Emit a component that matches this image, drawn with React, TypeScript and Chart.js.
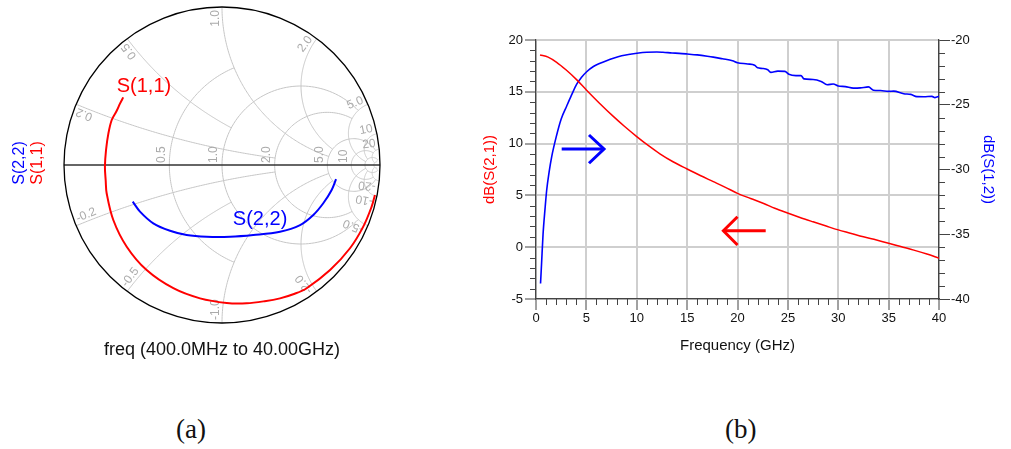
import React, { useEffect, useRef } from 'react';
import { Chart, registerables } from 'chart.js';

Chart.register(...registerables);

const SANS = '"Liberation Sans", Arial, Helvetica, sans-serif';
Chart.defaults.font.family = SANS;

// ---------- (a) Smith chart: reflection coefficients ----------
const s11Re = [-0.625, -0.645, -0.668, -0.698, -0.719, -0.734, -0.741, -0.736, -0.73, -0.688, -0.603, -0.477, -0.308, -0.139, 0.03, 0.156, 0.27, 0.367, 0.46, 0.536, 0.684, 0.81, 0.894, 0.947, 0.968];
const s11Im = [0.428, 0.39, 0.34, 0.285, 0.2, 0.095, -0.011, -0.1, -0.179, -0.348, -0.517, -0.665, -0.78, -0.844, -0.873, -0.875, -0.862, -0.844, -0.815, -0.78, -0.665, -0.527, -0.39, -0.264, -0.19];
const s22Re = [-0.565, -0.519, -0.435, -0.329, -0.224, -0.097, 0.051, 0.198, 0.367, 0.494, 0.578, 0.641, 0.694, 0.722];
const s22Im = [-0.232, -0.295, -0.369, -0.416, -0.443, -0.454, -0.454, -0.443, -0.422, -0.38, -0.316, -0.242, -0.158, -0.089];

// Smith grid: resistance circles (clipped at |x| <= clip) and reactance arcs (clipped at r <= clip)
const smithR = [0.5, 1, 2, 5, 10, 20, 50];
const smithRClip = [1, 5, 5, 20, 20, 50, 50];
const smithX = [0.2, 0.5, 1, 2, 5, 10, 20, 50];
const smithXClip = [2, 1, 5, 5, 20, 20, 50, 50];
const smithRLabels = ['0.5', '1.0', '2.0', '5.0', '10'];
const smithRLabelVals = [0.5, 1, 2, 5, 10];
const smithXLabelVals = [0.2, 0.5, 1, 2, 5, 10, 20];
const smithXLabels = ['0.2', '0.5', '1.0', '2.0', '5.0', '10', '20'];

const s11Tag = { text: 'S(1,1)', re: -0.494, im: 0.497 };
const s22Tag = { text: 'S(2,2)', re: 0.241, im: -0.342 };
const smithCaption = 'freq (400.0MHz to 40.00GHz)';

// ---------- (b) gain plot ----------
const freqS21 = [0.4, 1.2, 2.05, 3.0, 4.0, 5.0, 6.3, 7.7, 8.8, 10.0, 11.1, 12.3, 13.6, 15.0, 16.3, 17.6, 18.8, 20.0, 21.3, 22.6, 23.7, 24.9, 26.2, 27.5, 28.8, 30.0, 31.2, 32.5, 33.8, 35.0, 36.2, 37.5, 38.8, 40.0];
const s21dB = [18.55, 18.35, 17.85, 17.1, 16.2, 15.18, 13.9, 12.6, 11.65, 10.68, 9.85, 9.02, 8.25, 7.55, 6.92, 6.33, 5.78, 5.2, 4.7, 4.22, 3.76, 3.32, 2.87, 2.45, 2.04, 1.67, 1.35, 1.0, 0.7, 0.39, 0.06, -0.28, -0.66, -1.06];
const freqS12 = [0.45, 0.55, 0.7, 0.9, 1.06, 1.3, 1.56, 2.0, 2.5, 3.05, 3.5, 4.04, 4.5, 5.03, 5.7, 6.36, 7.0, 7.68, 8.5, 9.34, 10.2, 11.0, 12.0, 12.6, 13.5, 14.2, 15.0, 16.0, 17.0, 17.6, 18.5, 19.5, 20.0, 21.0, 21.7, 22.0, 22.5, 23.0, 23.3, 24.0, 24.7, 25.1, 25.8, 26.3, 26.6, 27.5, 28.3, 28.9, 29.5, 30.0, 30.7, 31.5, 32.2, 33.0, 33.5, 34.2, 35.0, 35.5, 36.5, 37.2, 37.8, 38.5, 39.3, 39.6, 40.0];
const s12dB = [-38.8, -37.3, -35.0, -33.0, -31.6, -30.2, -29.0, -27.5, -26.1, -25.1, -24.3, -23.4, -22.9, -22.45, -22.05, -21.8, -21.6, -21.41, -21.22, -21.1, -21.0, -20.95, -20.93, -20.95, -21.0, -21.03, -21.08, -21.15, -21.25, -21.32, -21.45, -21.6, -21.75, -21.85, -21.95, -22.15, -22.2, -22.3, -22.5, -22.4, -22.42, -22.65, -22.75, -22.75, -23.0, -23.05, -23.2, -23.45, -23.4, -23.55, -23.6, -23.72, -23.7, -23.62, -23.88, -23.9, -23.97, -23.95, -24.15, -24.2, -24.37, -24.38, -24.35, -24.45, -24.35];

// arrows (GHz, left-axis dB)
const blueArrowShaftF = [2.55, 6.75];
const blueArrowShaftV = [9.48, 9.48];
const blueArrowHeadF = [5.26, 6.75, 5.26];
const blueArrowHeadV = [10.83, 9.48, 8.1];
const redArrowShaftF = [18.6, 22.8];
const redArrowShaftV = [1.59, 1.59];
const redArrowHeadF = [20.0, 18.6, 20.0];
const redArrowHeadV = [2.94, 1.59, 0.21];

const pts = (xs: number[], ys: number[]) => xs.map((v, i) => ({ x: v, y: ys[i] }));

function gam(r: number, xv: number) {
  const den = (r + 1) * (r + 1) + xv * xv;
  return { re: (r * r - 1 + xv * xv) / den, im: (2 * xv) / den };
}

const smithPlugin = {
  id: 'smithGrid',
  beforeDatasetsDraw(chart: any) {
    const { ctx, scales } = chart;
    const sx = scales.x, sy = scales.y;
    const P = (a: number, b: number) => [sx.getPixelForValue(a), sy.getPixelForValue(b)];
    const [cx, cy] = P(0, 0);
    const R = sx.getPixelForValue(1) - cx;
    ctx.save();
    ctx.beginPath();
    ctx.arc(cx, cy, R, 0, Math.PI * 2);
    ctx.clip();
    ctx.strokeStyle = '#c6c6c6';
    ctx.lineWidth = 1;
    const N = 120;
    smithR.forEach((r, i) => {
      const c = r / (1 + r), rho = 1 / (1 + r);
      const g = gam(r, smithRClip[i]);
      const phi = Math.atan2(g.im, g.re - c);
      ctx.beginPath();
      for (let k = 0; k <= N; k++) {
        const f = phi + (2 * Math.PI - 2 * phi) * k / N;
        const [px, py] = P(c + rho * Math.cos(f), rho * Math.sin(f));
        if (k === 0) ctx.moveTo(px, py); else ctx.lineTo(px, py);
      }
      ctx.stroke();
    });
    smithX.forEach((xa, i) => {
      [xa, -xa].forEach((xv) => {
        const cyc = 1 / xv, rad = 1 / Math.abs(xv);
        const g0 = gam(0, xv), g1 = gam(smithXClip[i], xv);
        const p0 = Math.atan2(g0.im - cyc, g0.re - 1);
        const p1 = Math.atan2(g1.im - cyc, g1.re - 1);
        let d = p1 - p0;
        while (d > Math.PI) d -= 2 * Math.PI;
        while (d <= -Math.PI) d += 2 * Math.PI;
        ctx.beginPath();
        for (let k = 0; k <= N; k++) {
          const f = p0 + d * k / N;
          const [px, py] = P(1 + rad * Math.cos(f), cyc + rad * Math.sin(f));
          if (k === 0) ctx.moveTo(px, py); else ctx.lineTo(px, py);
        }
        ctx.stroke();
      });
    });
    ctx.restore();

    // labels
    ctx.save();
    ctx.fillStyle = '#ababab';
    ctx.font = `12px ${SANS}`;
    ctx.textBaseline = 'bottom';
    smithRLabelVals.forEach((r, i) => {
      const g = gam(r, 0);
      const [px] = P(g.re, 0);
      ctx.save();
      ctx.translate(px - 2, cy - 2);
      ctx.rotate(-Math.PI / 2);
      ctx.textAlign = 'left';
      ctx.fillText(smithRLabels[i], 0, 0);
      ctx.restore();
    });
    smithXLabelVals.forEach((xa, i) => {
      [xa, -xa].forEach((xv) => {
        const g0 = gam(0, xv);
        const al = Math.atan2(g0.im, g0.re);
        const ax = cx + (R - 3) * Math.cos(al), ay = cy - (R - 3) * Math.sin(al);
        ctx.save();
        ctx.translate(ax, ay);
        if (al > 0) { ctx.rotate(-al); ctx.textAlign = 'right'; }
        else { ctx.rotate(Math.PI - al); ctx.textAlign = 'left'; }
        ctx.fillText(xv > 0 ? smithXLabels[i] : '-' + smithXLabels[i], 0, 0);
        ctx.restore();
      });
    });
    ctx.restore();

    // real axis and outer circle
    ctx.save();
    ctx.strokeStyle = '#333';
    ctx.lineWidth = 1.3;
    ctx.beginPath();
    const [lx] = P(-1, 0), [rx] = P(1, 0);
    ctx.moveTo(lx, cy); ctx.lineTo(rx, cy);
    ctx.stroke();
    ctx.strokeStyle = '#000';
    ctx.beginPath();
    ctx.arc(cx, cy, R, 0, Math.PI * 2);
    ctx.stroke();
    ctx.restore();
  },
  afterDatasetsDraw(chart: any) {
    const { ctx, scales, chartArea } = chart;
    const sx = scales.x, sy = scales.y;
    ctx.save();
    ctx.textAlign = 'center';
    ctx.textBaseline = 'middle';
    ctx.font = `20px ${SANS}`;
    ctx.fillStyle = '#ff0000';
    ctx.fillText(s11Tag.text, sx.getPixelForValue(s11Tag.re), sy.getPixelForValue(s11Tag.im));
    ctx.fillStyle = '#0000ff';
    ctx.fillText(s22Tag.text, sx.getPixelForValue(s22Tag.re), sy.getPixelForValue(s22Tag.im));
    // left vertical trace names
    const cy = sy.getPixelForValue(0);
    ctx.font = `16px ${SANS}`;
    ctx.save();
    ctx.translate(20, cy - 2);
    ctx.rotate(-Math.PI / 2);
    ctx.fillStyle = '#0000ff';
    ctx.fillText('S(2,2)', 0, 0);
    ctx.restore();
    ctx.save();
    ctx.translate(37.5, cy - 2);
    ctx.rotate(-Math.PI / 2);
    ctx.fillStyle = '#ff0000';
    ctx.fillText('S(1,1)', 0, 0);
    ctx.restore();
    // frequency caption
    ctx.font = `18px ${SANS}`;
    ctx.fillStyle = '#111';
    ctx.fillText(smithCaption, sx.getPixelForValue(0), chartArea.bottom + 27);
    ctx.restore();
  },
};

const minorTicksPlugin = {
  id: 'minorTicks',
  afterDraw(chart: any) {
    const { ctx, scales, chartArea } = chart;
    const { x, y, y2 } = scales;
    ctx.save();
    ctx.strokeStyle = '#444';
    ctx.lineWidth = 1;
    ctx.beginPath();
    for (let v = Math.ceil(x.min); v <= x.max; v++) {
      if (v % 5 === 0) continue;
      const px = Math.round(x.getPixelForValue(v)) + 0.5;
      ctx.moveTo(px, chartArea.bottom);
      ctx.lineTo(px, chartArea.bottom + 6);
    }
    for (let v = Math.ceil(y.min); v <= y.max; v++) {
      if (v % 5 === 0) continue;
      const py = Math.round(y.getPixelForValue(v)) + 0.5;
      ctx.moveTo(chartArea.left, py);
      ctx.lineTo(chartArea.left - 6, py);
    }
    for (let v = Math.ceil(y2.min); v <= y2.max; v++) {
      if (v % 5 === 0) continue;
      const py = Math.round(y2.getPixelForValue(v)) + 0.5;
      ctx.moveTo(chartArea.right, py);
      ctx.lineTo(chartArea.right + 6, py);
    }
    ctx.stroke();
    ctx.restore();
  },
};

function SmithChart() {
  const ref = useRef<HTMLCanvasElement | null>(null);
  useEffect(() => {
    if (!ref.current) return;
    const chart = new Chart(ref.current, {
      type: 'scatter',
      data: {
        datasets: [
          { label: 'S(1,1)', data: pts(s11Re, s11Im), showLine: true, borderColor: '#ff0000', borderWidth: 2, pointRadius: 0, tension: 0.35 },
          { label: 'S(2,2)', data: pts(s22Re, s22Im), showLine: true, borderColor: '#0000ff', borderWidth: 2, pointRadius: 0, tension: 0.35 },
        ],
      },
      options: {
        responsive: false,
        animation: false,
        layout: { padding: { left: 64, top: 7, right: 90, bottom: 57 } },
        scales: {
          x: { type: 'linear', min: -1, max: 1, display: false },
          y: { type: 'linear', min: -1, max: 1, display: false },
        },
        plugins: { legend: { display: false }, tooltip: { enabled: false } },
      },
      plugins: [smithPlugin],
    } as any);
    return () => chart.destroy();
  }, []);
  return <canvas ref={ref} width={470} height={380} style={{ position: 'absolute', left: 0, top: 0 }} />;
}

function GainChart() {
  const ref = useRef<HTMLCanvasElement | null>(null);
  useEffect(() => {
    if (!ref.current) return;
    const tickFont = { size: 13 };
    const chart = new Chart(ref.current, {
      type: 'line',
      data: {
        datasets: [
          { label: 'dB(S(2,1))', data: pts(freqS21, s21dB), borderColor: '#ff0000', borderWidth: 1.5, pointRadius: 0, cubicInterpolationMode: 'monotone', yAxisID: 'y' },
          { label: 'dB(S(1,2))', data: pts(freqS12, s12dB), borderColor: '#0000ff', borderWidth: 1.6, pointRadius: 0, cubicInterpolationMode: 'monotone', yAxisID: 'y2' },
          { label: 'arrow1', data: pts(blueArrowShaftF, blueArrowShaftV), borderColor: '#0000ff', borderWidth: 3, pointRadius: 0, yAxisID: 'y' },
          { label: 'arrow1h', data: pts(blueArrowHeadF, blueArrowHeadV), borderColor: '#0000ff', borderWidth: 3, pointRadius: 0, yAxisID: 'y' },
          { label: 'arrow2', data: pts(redArrowShaftF, redArrowShaftV), borderColor: '#ff0000', borderWidth: 3, pointRadius: 0, yAxisID: 'y' },
          { label: 'arrow2h', data: pts(redArrowHeadF, redArrowHeadV), borderColor: '#ff0000', borderWidth: 3, pointRadius: 0, yAxisID: 'y' },
        ],
      },
      options: {
        responsive: false,
        animation: false,
        layout: { padding: { top: 40, left: 0, right: 0, bottom: 0 } },
        scales: {
          x: {
            type: 'linear', min: 0, max: 40,
            ticks: { stepSize: 5, padding: 1, color: '#111', font: tickFont, maxRotation: 0 },
            grid: { color: '#cfcfcf', lineWidth: 2, tickColor: '#444', tickLength: 11, tickWidth: 1 },
            border: { color: '#444', width: 1.3 },
            title: { display: true, text: 'Frequency (GHz)', color: '#111', font: { size: 15 }, padding: { top: 0, bottom: 25 } },
            afterFit: (s: any) => { s.height = 81; },
          },
          y: {
            type: 'linear', position: 'left', min: -5, max: 20,
            ticks: { stepSize: 5, padding: 2, color: '#111', font: tickFont },
            grid: { color: '#cfcfcf', lineWidth: 2, tickColor: '#444', tickLength: 11, tickWidth: 1 },
            border: { color: '#444', width: 1.3 },
            title: { display: true, text: 'dB(S(2,1))', color: '#ff0000', font: { size: 15 }, padding: { top: 1, bottom: 0 } },
            afterFit: (s: any) => { s.width = 56; },
          },
          y2: {
            type: 'linear', position: 'right', min: -40, max: -20,
            ticks: { stepSize: 5, padding: 1, color: '#111', font: tickFont },
            grid: { drawOnChartArea: false, tickColor: '#444', tickLength: 11, tickWidth: 1 },
            border: { color: '#444', width: 1.3 },
            title: { display: true, text: 'dB(S(1,2))', color: '#0000ff', font: { size: 15 }, padding: { top: 13.5, bottom: 0 } },
            afterFit: (s: any) => { s.width = 72; },
          },
        },
        plugins: { legend: { display: false }, tooltip: { enabled: false } },
      },
      plugins: [minorTicksPlugin],
    } as any);
    return () => chart.destroy();
  }, []);
  return <canvas ref={ref} width={531} height={380} style={{ position: 'absolute', left: 480, top: 0 }} />;
}

export default function App() {
  const cap: React.CSSProperties = {
    position: 'absolute', top: 416, fontFamily: '"Liberation Serif", "Times New Roman", serif',
    fontSize: 27, lineHeight: '27px', color: '#111', whiteSpace: 'nowrap',
  };
  return (
    <div style={{ position: 'fixed', left: 0, top: 0, width: 1011, height: 449, background: '#fff', overflow: 'hidden' }}>
      <SmithChart />
      <GainChart />
      <div style={{ ...cap, left: 176 }}>(a)</div>
      <div style={{ ...cap, left: 725 }}>(b)</div>
    </div>
  );
}
